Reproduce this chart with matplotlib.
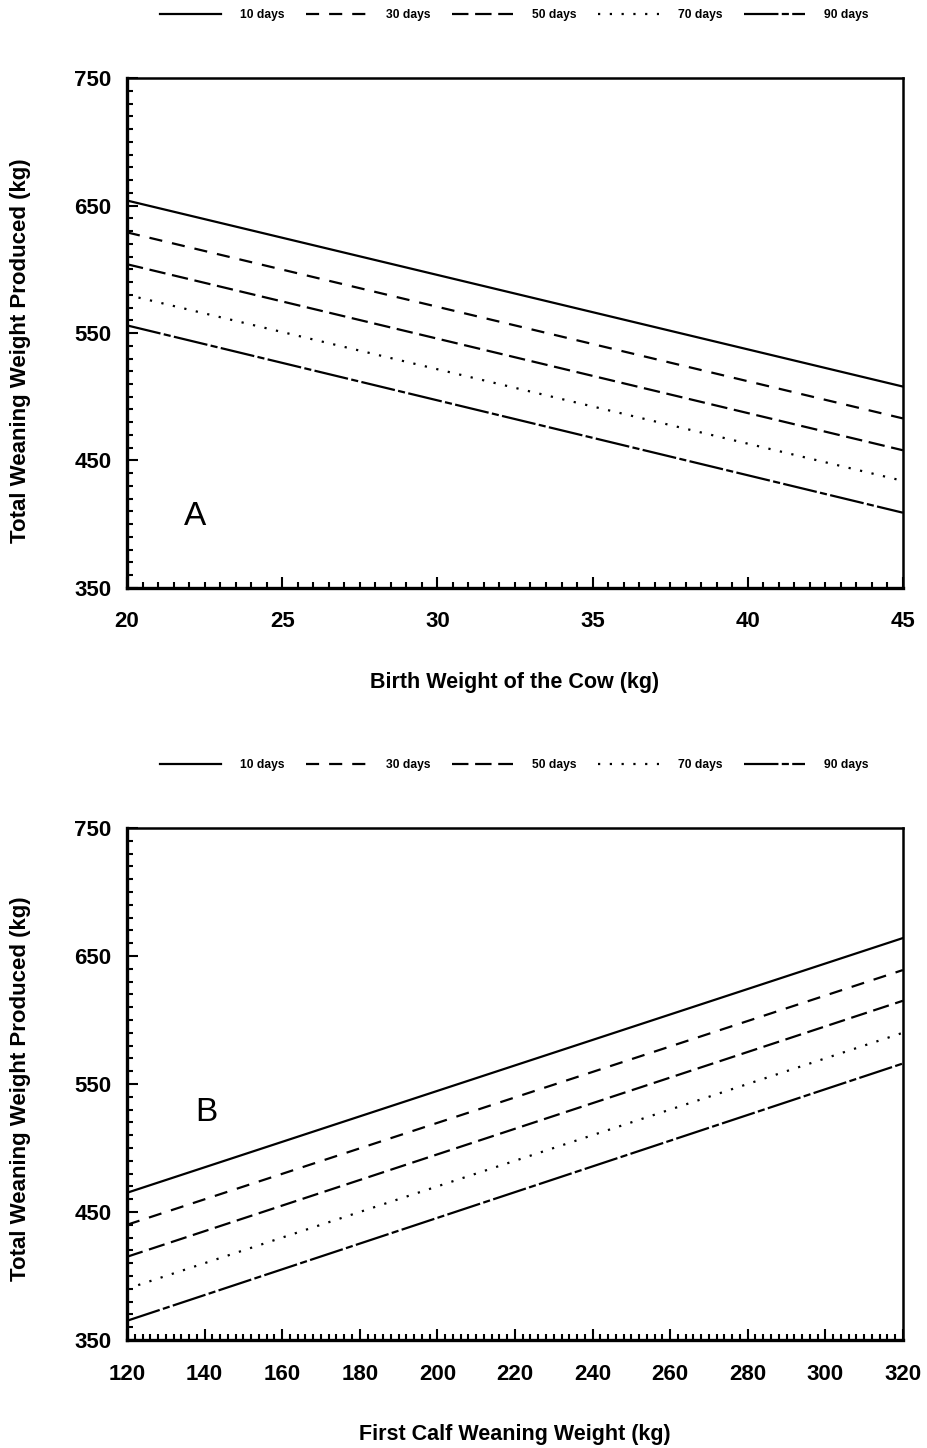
import numpy as np
import matplotlib.pyplot as plt
from matplotlib.ticker import MultipleLocator

plt.rcParams['font.family'] = ['Liberation Sans', 'DejaVu Sans']

DAY_LABELS = ["10 days", "30 days", "50 days", "70 days", "90 days"]
Y_TICKS = [350, 450, 550, 650, 750]

# panel A: total weaning weight vs birth weight of the cow
BIRTH_WT = [20, 45]
TOTAL_A = [
    [654, 508],
    [629, 483],
    [604, 458],
    [580, 434],
    [556, 409],
]

# panel B: total weaning weight vs first calf weaning weight
CALF_WT = [120, 320]
TOTAL_B = [
    [465, 664],
    [440, 639],
    [415, 615],
    [390, 590],
    [365, 566],
]

LINE_STYLES = [
    "-",
    (0, (5.9, 4.5)),
    (0, (7.4, 3.0)),
    (0, (1.0, 4.3)),
    (0, (15.5, 1.5, 3.2, 1.5)),
]


def draw_panel(ax, xs, series, xlim, xmajor, xminor, xlabel, letter, letter_pos,
               ylabel_y):
    for vals, ls, lab in zip(series, LINE_STYLES, DAY_LABELS):
        ax.plot(xs, vals, color="black", linestyle=ls, linewidth=1.6, label=lab)
    ax.set_xlim(*xlim)
    ax.set_ylim(350, 750)
    ax.xaxis.set_major_locator(MultipleLocator(xmajor))
    ax.xaxis.set_minor_locator(MultipleLocator(xminor))
    ax.set_yticks(Y_TICKS)
    ax.yaxis.set_minor_locator(MultipleLocator(10))
    ax.tick_params(which="both", direction="in", top=False, right=False,
                   width=1.5, labelsize=16)
    ax.tick_params(which="major", length=8)
    ax.tick_params(which="minor", length=4)
    ax.tick_params(axis="x", pad=17)
    ax.tick_params(axis="y", pad=11)
    for lbl in ax.get_xticklabels() + ax.get_yticklabels():
        lbl.set_fontweight("bold")
    for side in ["left", "bottom"]:
        ax.spines[side].set_linewidth(2.4)
    for side in ["top", "right"]:
        ax.spines[side].set_linewidth(1.8)
    ax.set_xlabel(xlabel, fontsize=15.5, fontweight="bold")
    ax.set_ylabel("Total Weaning Weight Produced (kg)", fontsize=16,
                  fontweight="bold")
    ax.xaxis.set_label_coords(0.5, -0.165)
    ax.yaxis.set_label_coords(-0.124, ylabel_y)
    ax.text(letter_pos[0], letter_pos[1], letter, fontsize=24,
            ha="center", va="center")


fig = plt.figure(figsize=(9.27, 14.48), dpi=100)
ax_a = fig.add_axes([0.137, 0.594, 0.837, 0.352])
ax_b = fig.add_axes([0.137, 0.0746, 0.837, 0.3536])

draw_panel(ax_a, BIRTH_WT, TOTAL_A, (20, 45), 5, 0.5,
           "Birth Weight of the Cow (kg)", "A", (22.2, 406), 0.465)
draw_panel(ax_b, CALF_WT, TOTAL_B, (120, 320), 20, 2,
           "First Calf Weaning Weight (kg)", "B", (140.5, 528), 0.49)

for ax, ypos in [(ax_a, 0.9895), (ax_b, 0.4715)]:
    handles, labels = ax.get_legend_handles_labels()
    fig.legend(handles, labels, loc="center", bbox_to_anchor=(0.555, ypos),
               ncol=5, frameon=False, handlelength=5.0, handletextpad=1.6,
               columnspacing=1.8, prop={"size": 8.7, "weight": "bold"})

fig.savefig("out.png", dpi=100)
